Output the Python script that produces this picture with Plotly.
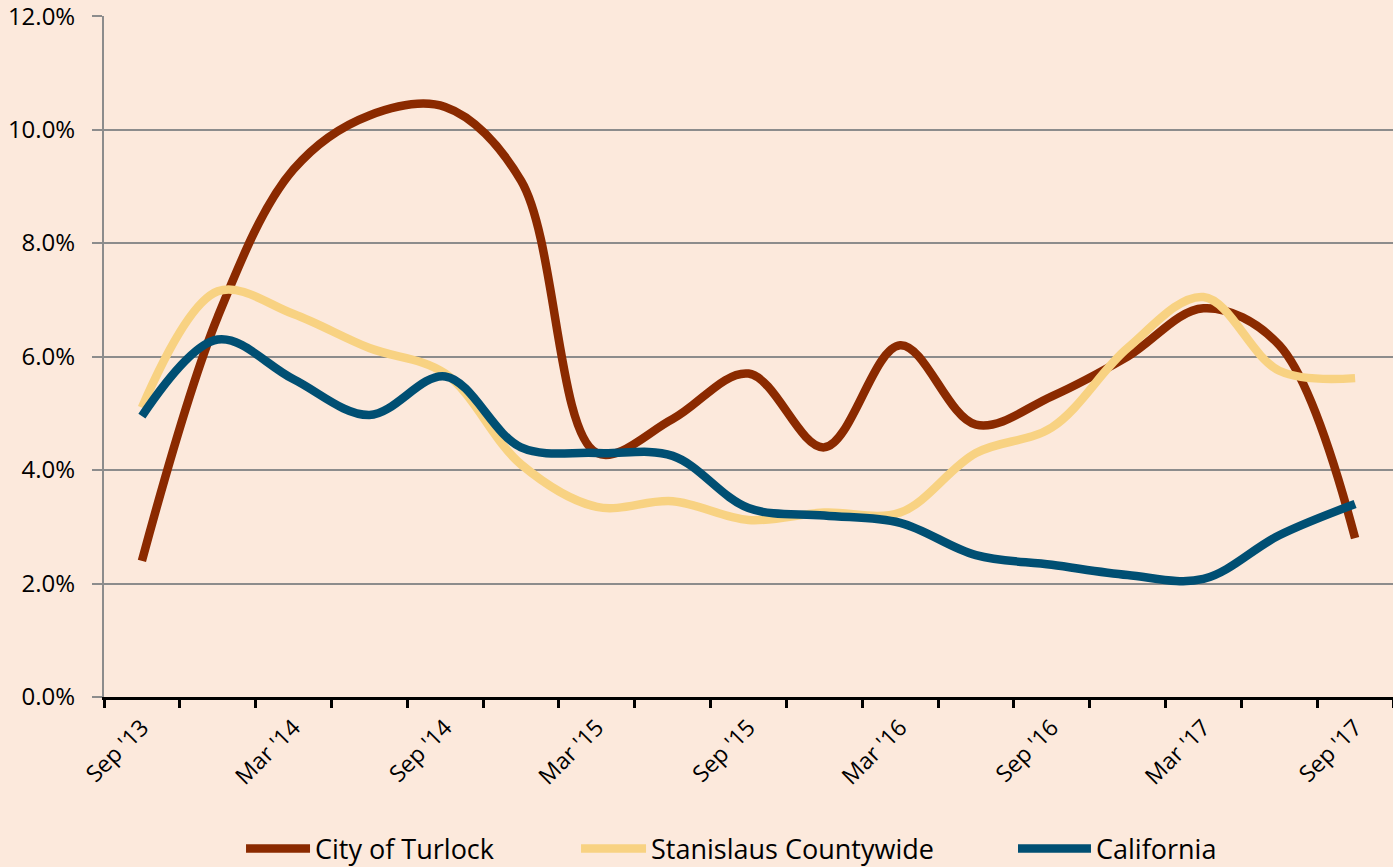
import plotly.graph_objects as go

quarters = ["Sep '13", "Dec '13", "Mar '14", "Jun '14", "Sep '14", "Dec '14",
            "Mar '15", "Jun '15", "Sep '15", "Dec '15", "Mar '16", "Jun '16",
            "Sep '16", "Dec '16", "Mar '17", "Jun '17", "Sep '17"]
turlock = [2.4, 6.7, 9.3, 10.25, 10.4, 9.1, 4.3, 4.9, 5.7, 4.4, 6.2, 4.8,
           5.3, 6.0, 6.85, 6.2, 2.8]
stanislaus = [5.1, 7.15, 6.75, 6.15, 5.7, 4.1, 3.35, 3.45, 3.12, 3.25, 3.25, 4.3,
              4.75, 6.15, 7.05, 5.75, 5.62]
california = [4.95, 6.3, 5.6, 4.97, 5.65, 4.4, 4.3, 4.25, 3.33, 3.2, 3.07, 2.5,
              2.33, 2.15, 2.08, 2.85, 3.4]
series_names = ["City of Turlock", "Stanislaus Countywide", "California"]
series_colors = ["#8B2A00", "#F8D282", "#004F73"]
y_ticks = [0, 2, 4, 6, 8, 10, 12]
y_ticktext = [f"{v:.1f}%" for v in y_ticks]

BG = "#FCE9DC"
FONT = "'Open Sans', Lato, 'Liberation Sans', sans-serif"

legend_ids = ["legend", "legend2", "legend3"]
legend_x = [0.1063, 0.3662, 0.7052]
legend_itemwidth = [64, 65, 73]

fig = go.Figure()
for name, vals, col, lid in zip(series_names, [turlock, stanislaus, california],
                                series_colors, legend_ids):
    fig.add_trace(go.Scatter(
        x=quarters, y=vals, name=name, mode="lines", legend=lid,
        line=dict(color=col, width=8.5, shape="spline", smoothing=1.0),
    ))

ticktext = [q if i % 2 == 0 else "" for i, q in enumerate(quarters)]

legend_common = dict(orientation="h", xanchor="left", y=-0.2232, yanchor="middle",
                     font=dict(size=27, family=FONT, color="#000000"),
                     bgcolor="rgba(0,0,0,0)", borderwidth=0)
legends = {}
for lid, lx, iw in zip(legend_ids, legend_x, legend_itemwidth):
    legends[lid] = dict(legend_common, x=lx, itemwidth=iw)

fig.update_layout(
    width=1393, height=867,
    paper_bgcolor=BG, plot_bgcolor=BG,
    margin=dict(l=104, r=0, t=16, b=170, autoexpand=False),
    font=dict(family=FONT, color="#000000"),
    showlegend=True,
    xaxis=dict(
        type="category", categoryorder="array", categoryarray=quarters,
        range=[-0.5, len(quarters) - 0.5],
        tickmode="array", tickvals=quarters, ticktext=ticktext,
        tickson="boundaries", ticks="outside", ticklen=8, tickwidth=3, tickcolor="#000000",
        tickangle=-45, tickfont=dict(size=23, family=FONT), ticklabelstandoff=5,
        showline=True, linecolor="#000000", linewidth=3,
        showgrid=False, zeroline=False,
    ),
    yaxis=dict(
        range=[0, 12.002], tickmode="array", tickvals=y_ticks, ticktext=y_ticktext,
        ticks="outside", ticklen=10, tickwidth=2, tickcolor="#8C8C8C",
        tickfont=dict(size=24, family=FONT), ticklabelstandoff=12,
        ticklabeloverflow="allow",
        showgrid=True, gridcolor="#8C8C8C", gridwidth=2,
        showline=True, linecolor="#8C8C8C", linewidth=2,
        zeroline=False,
    ),
    **legends,
)

fig.write_html(
    "out.html",
    config={"displayModeBar": False},
    post_script="document.body.style.margin='0';document.body.style.background='" + BG + "';",
)
